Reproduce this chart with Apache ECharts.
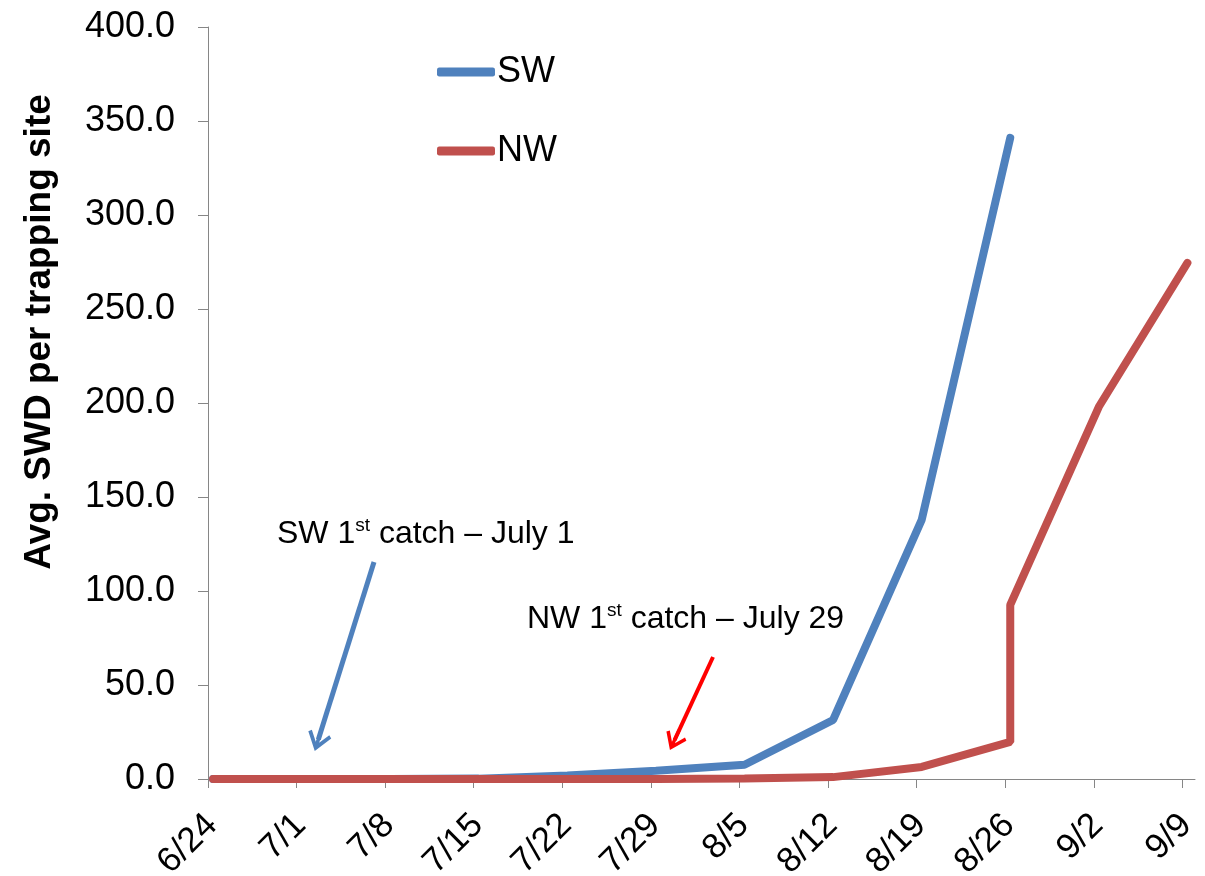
<!DOCTYPE html>
<html>
<head>
<meta charset="utf-8">
<title>SWD trap catches</title>
<script src="https://cdn.jsdelivr.net/npm/echarts@6/dist/echarts.min.js"></script>
<style>
  html, body { margin: 0; padding: 0; background: #fff; }
  #chart { width: 1205px; height: 876px; }
</style>
</head>
<body>
<div id="chart"></div>
<script>
// 采样日期（月/日）和每个站点的平均诱捕数
const swDates = ['6/24', '7/1', '7/8', '7/15', '7/22', '7/29', '8/5', '8/12', '8/19', '8/26']
const swValues = [0, 0, 0, 0.2, 1.8, 4.4, 7.6, 31.4, 137.8, 341]
const nwDates = ['6/24', '7/1', '7/8', '7/15', '7/22', '7/29', '8/5', '8/12', '8/19', '8/26', '8/26', '9/2', '9/9']
const nwValues = [0, 0, 0, 0, 0, 0, 0.3, 1, 6.4, 19.7, 92.6, 198, 274.5]
const xTicks = ['6/24', '7/1', '7/8', '7/15', '7/22', '7/29', '8/5', '8/12', '8/19', '8/26', '9/2', '9/9']
const yTicks = [0, 50, 100, 150, 200, 250, 300, 350, 400]

const startDate = new Date(2013, 5, 24)
const dayMs = 24 * 3600 * 1000
const sampleTime = 0.4 // 采样时刻在当天中的位置（天）

// '7/29' -> 距 6/24 的天数
function toDay(str) {
  const parts = str.split('/')
  const d = new Date(2013, Number(parts[0]) - 1, Number(parts[1]))
  return Math.round((d - startDate) / dayMs)
}
function dayLabel(v) {
  const d = new Date(startDate.getTime() + v * dayMs)
  return (d.getMonth() + 1) + '/' + d.getDate()
}
function pairs(dates, values) {
  return dates.map((s, i) => [toDay(s) + sampleTime, values[i]])
}
const tickDays = xTicks.map(toDay)

const font = 'Liberation Sans, Arial, sans-serif'
// 空心箭头（尖朝上）
const chevron = 'path://M10,0 L20,14 L17.6,16.2 L11.5,7.6 L11.5,20 L8.5,20 L8.5,7.6 L2.4,16.2 L0,14 Z'

const chart = echarts.init(document.getElementById('chart'))
const option = {
  animation: false,
  backgroundColor: '#fff',
  textStyle: { fontFamily: font },
  grid: { left: 208, right: 10, top: 27, bottom: 97, containLabel: false, outerBoundsMode: 'none' },
  legend: {
    orient: 'vertical',
    left: 437,
    top: 54,
    padding: 0,
    itemWidth: 58,
    itemHeight: 9,
    itemGap: 43,
    icon: 'roundRect',
    textStyle: { fontSize: 36, color: '#000', fontFamily: font, padding: [0, 0, 0, -3] },
    data: ['SW', 'NW']
  },
  xAxis: {
    type: 'value',
    min: 0,
    max: tickDays[tickDays.length - 1] + 1,
    splitLine: { show: false },
    axisLine: { show: true, lineStyle: { color: '#868686', width: 1 } },
    axisTick: { show: true, length: 9, customValues: tickDays, lineStyle: { color: '#868686' } },
    axisLabel: {
      customValues: tickDays,
      rotate: 45,
      align: 'right',
      verticalAlign: 'top',
      margin: 20,
      padding: [0, 12, 0, 0],
      fontSize: 35,
      color: '#000',
      fontFamily: font,
      formatter: dayLabel
    }
  },
  yAxis: {
    type: 'value',
    min: yTicks[0],
    max: yTicks[yTicks.length - 1],
    interval: 50,
    splitLine: { show: false },
    axisLine: { show: true, lineStyle: { color: '#868686', width: 1 } },
    axisTick: { show: true, length: 10, lineStyle: { color: '#868686' } },
    axisLabel: {
      margin: 33,
      fontSize: 36,
      color: '#000',
      fontFamily: font,
      formatter: (v) => v.toFixed(1)
    }
  },
  graphic: [
    {
      type: 'text',
      x: 40,
      y: 332,
      rotation: Math.PI / 2,
      style: {
        text: 'Avg. SWD per trapping site',
        fontSize: 37,
        fontWeight: 'bold',
        fontFamily: font,
        fill: '#000',
        align: 'center',
        verticalAlign: 'middle'
      }
    },
    {
      type: 'text',
      x: 277,
      y: 534,
      style: {
        text: '{a|SW 1}{s|st}{a| catch – July 1}',
        verticalAlign: 'middle',
        rich: {
          a: { fontSize: 32, lineHeight: 36, fontFamily: font, fill: '#000' },
          s: { fontSize: 19, fontFamily: font, fill: '#000', verticalAlign: 'top' }
        }
      }
    },
    {
      type: 'text',
      x: 527,
      y: 619,
      style: {
        text: '{a|NW 1}{s|st}{a| catch – July 29}',
        verticalAlign: 'middle',
        rich: {
          a: { fontSize: 32, lineHeight: 36, fontFamily: font, fill: '#000' },
          s: { fontSize: 19, fontFamily: font, fill: '#000', verticalAlign: 'top' }
        }
      }
    }
  ],
  series: [
    {
      name: 'SW',
      type: 'line',
      data: pairs(swDates, swValues),
      showSymbol: false,
      color: '#4F81BD',
      lineStyle: { width: 8, color: '#4F81BD', cap: 'round' },
      markLine: {
        silent: true,
        symbol: ['none', chevron],
        symbolSize: 24,
        label: { show: false },
        lineStyle: { type: 'solid', width: 5, color: '#4F81BD' },
        data: [[{ coord: [13.12, 115.4] }, { coord: [8.72, 21.0] }]]
      }
    },
    {
      name: 'NW',
      type: 'line',
      data: pairs(nwDates, nwValues),
      showSymbol: false,
      color: '#C0504D',
      lineStyle: { width: 8, color: '#C0504D', cap: 'round' },
      markLine: {
        silent: true,
        symbol: ['none', chevron],
        symbolSize: 22,
        label: { show: false },
        lineStyle: { type: 'solid', width: 4, color: '#FF0000' },
        data: [[{ coord: [39.91, 64.9] }, { coord: [36.87, 20.7] }]]
      }
    }
  ]
}
chart.setOption(option)
</script>
</body>
</html>
